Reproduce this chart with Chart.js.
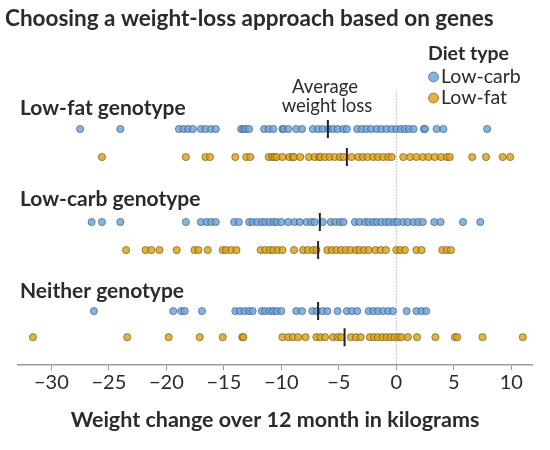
<!DOCTYPE html>
<html lang='en'>
<head>
    <meta charset='UTF-8'>
    <title>Choosing a weight-loss approach based on genes</title>
    <style>
        body {
            margin: 0;
            padding: 0;
            background-color: #fff;
        }
        .chart-box {
            width: 550px;
            height: 450px;
            position: relative;
        }
    </style>
</head>
<body>
    <div class='chart-box'>
        <canvas id='genesChart'></canvas>
    </div>

    <script src='https://cdn.jsdelivr.net/npm/chart.js'></script>
    <script>
        const groups = ['Low-fat genotype', 'Low-carb genotype', 'Neither genotype'];
        const diets = ['Low-carb', 'Low-fat'];
        const xTicks = [-30, -25, -20, -15, -10, -5, 0, 5, 10];

        // weight change (kg) per person
        const lowFatGenoLowCarb = [-27.5, -24.0, -18.9, -18.5, -18.1, -17.7, -17.0, -16.6, -16.1, -15.7, -13.5, -13.3, -13.1, -12.8,
            -11.5, -11.1, -10.7, -9.9, -9.8, -9.4, -8.7, -8.2, -7.25, -6.8, -6.4, -5.9, -5.5, -5.1, -4.6, -4.3, -3.4, -3.0, -2.6,
            -2.2, -1.7, -1.3, -0.85, -0.4, 0.0, 0.4, 0.75, 1.1, 1.5, 2.4, 2.5, 3.5, 4.1, 7.9];
        const lowFatGenoLowFat = [-25.6, -18.3, -16.6, -16.2, -14.0, -13.05, -12.7, -11.1, -10.8, -10.6, -10.4, -9.9, -9.3, -9.0,
            -8.9, -8.35, -7.6, -7.1, -6.7, -6.6, -6.2, -5.8, -5.35, -4.9, -4.6, -3.9, -3.3, -2.9, -2.5, -2.0, -1.6, -1.15, -0.7,
            -0.4, 0.6, 1.2, 1.75, 2.3, 2.8, 3.35, 3.9, 4.4, 4.65, 6.6, 7.8, 9.25, 9.9];
        const lowCarbGenoLowCarb = [-26.5, -25.6, -24.0, -18.3, -17.0, -16.5, -16.1, -15.7, -14.1, -13.7, -12.8, -12.5, -12.1,
            -11.7, -11.4, -11.0, -10.65, -10.4, -10.0, -9.4, -8.85, -8.4, -7.8, -7.4, -7.1, -6.4, -5.7, -5.3, -4.9, -4.6, -3.6,
            -3.2, -2.7, -2.4, -2.0, -1.7, -1.3, -0.9, -0.6, -0.2, 0.1, 0.6, 1.0, 1.5, 1.9, 2.3, 3.3, 3.85, 5.8, 7.3];
        const lowCarbGenoLowFat = [-23.5, -21.8, -21.3, -20.6, -19.1, -17.55, -17.2, -16.4, -15.1, -14.8, -14.35, -13.9, -11.8,
            -11.4, -11.0, -10.7, -10.3, -9.9, -8.9, -8.1, -7.7, -7.25, -6.95, -6.0, -5.6, -5.2, -4.8, -4.4, -4.0, -3.5, -3.2,
            -2.8, -2.4, -1.8, -1.35, -0.9, 0.0, 0.35, 0.75, 1.75, 2.2, 4.0, 4.4, 4.75];
        const neitherGenoLowCarb = [-26.3, -19.4, -18.7, -18.4, -16.9, -14.0, -13.6, -13.2, -12.8, -12.5, -11.7, -11.4, -11.0,
            -10.7, -10.4, -10.0, -8.7, -8.2, -7.3, -6.9, -6.4, -6.0, -5.1, -4.3, -3.85, -3.4, -2.4, -2.0, -1.6, -1.15, -0.7,
            -0.3, 0.9, 1.75, 2.2, 2.6];
        const neitherGenoLowFat = [-31.6, -23.4, -19.8, -17.1, -15.1, -13.4, -13.3, -9.9, -9.4, -9.0, -8.55, -7.9, -6.95, -6.6,
            -6.2, -5.5, -5.1, -4.8, -3.95, -3.5, -3.1, -2.3, -1.95, -1.6, -1.2, -0.85, -0.5, -0.15, 0.2, 0.45, 1.0, 1.8, 3.4,
            5.1, 5.3, 7.5, 11.0];

        // average weight change per genotype (same order as groups)
        const avgLowCarb = [-5.95, -6.65, -6.8];
        const avgLowFat = [-4.3, -6.8, -4.5];

        // layout: row position of each strip on the hidden y scale
        const rowPos = [[0, 1], [3.32, 4.32], [6.5, 7.43]];
        const yMin = -1.57, yMax = 8.43;

        const blueFill = 'rgba(112, 166, 221, 0.85)';
        const goldFill = 'rgba(222, 166, 30, 0.85)';
        const blueEdge = 'rgba(45, 70, 100, 0.7)';
        const goldEdge = 'rgba(90, 65, 15, 0.7)';
        const textColor = '#2b2b2b';

        const strips = [
            [lowFatGenoLowCarb, lowFatGenoLowFat],
            [lowCarbGenoLowCarb, lowCarbGenoLowFat],
            [neitherGenoLowCarb, neitherGenoLowFat]
        ];

        const datasets = [];
        strips.forEach((pair, g) => {
            pair.forEach((vals, d) => {
                datasets.push({
                    label: groups[g] + ' / ' + diets[d],
                    data: vals.map(v => ({ x: v, y: rowPos[g][d] })),
                    backgroundColor: d == 0 ? blueFill : goldFill,
                    borderColor: d == 0 ? blueEdge : goldEdge,
                    borderWidth: 0.8,
                    pointRadius: 3.6,
                    order: 1
                });
            });
        });

        const meanPoints = [];
        groups.forEach((_, g) => {
            meanPoints.push({ x: avgLowCarb[g], y: rowPos[g][0] });
            meanPoints.push({ x: avgLowFat[g], y: rowPos[g][1] });
        });
        datasets.push({
            label: 'Average weight loss',
            data: meanPoints,
            pointStyle: 'line',
            rotation: 90,
            pointRadius: 9,
            borderWidth: 2,
            borderColor: '#222',
            order: 0
        });

        datasets.push({
            type: 'line',
            label: 'zero',
            data: [{ x: 0, y: -1.3 }, { x: 0, y: yMax }],
            borderColor: '#888',
            borderWidth: 1,
            borderDash: [1, 2],
            pointRadius: 0,
            order: 2
        });

        const textLayer = {
            id: 'textLayer',
            afterDraw(chart) {
                const ctx = chart.ctx;
                ctx.save();
                ctx.fillStyle = textColor;
                ctx.textBaseline = 'middle';

                ctx.font = 'bold 22.5px Lato';
                ctx.textAlign = 'left';
                ctx.fillText('Choosing a weight-loss approach based on genes', 5, 19);

                ctx.font = 'bold 21px Lato';
                const labelY = [108, 199, 291];
                groups.forEach((name, g) => ctx.fillText(name, 20, labelY[g]));

                ctx.font = '18.5px Lato';
                ctx.textAlign = 'center';
                ctx.fillText('Average', 325, 87);
                ctx.fillText('weight loss', 327, 106);

                ctx.textAlign = 'left';
                ctx.font = 'bold 19.5px Lato';
                ctx.fillText('Diet type', 428, 54);
                ctx.font = '19.5px Lato';
                const fills = [blueFill, goldFill];
                const edges = [blueEdge, goldEdge];
                diets.forEach((name, d) => {
                    const y = 77 + d * 21;
                    ctx.beginPath();
                    ctx.arc(433.5, y, 5, 0, Math.PI * 2);
                    ctx.fillStyle = fills[d];
                    ctx.fill();
                    ctx.strokeStyle = edges[d];
                    ctx.lineWidth = 0.8;
                    ctx.stroke();
                    ctx.fillStyle = textColor;
                    ctx.fillText(name, 441, y);
                });
                ctx.restore();
            }
        };

        new Chart(document.getElementById('genesChart'), {
            type: 'scatter',
            data: { datasets: datasets },
            options: {
                responsive: true,
                maintainAspectRatio: false,
                animation: false,
                layout: { padding: { top: 85, left: 18, right: 18, bottom: 15 } },
                plugins: {
                    legend: { display: false },
                    tooltip: { enabled: false }
                },
                scales: {
                    x: {
                        type: 'linear',
                        min: -32.9,
                        max: 11.8,
                        afterBuildTicks: scale => {
                            scale.ticks = xTicks.map(v => ({ value: v }));
                        },
                        grid: { drawOnChartArea: false, drawTicks: true, tickLength: 5, color: '#999' },
                        border: { display: true, color: '#999', width: 1.5 },
                        ticks: {
                            color: textColor,
                            padding: 0,
                            font: { family: 'Lato', size: 20 },
                            maxRotation: 0,
                            callback: v => (v < 0 ? '\u2212' + Math.abs(v) : String(v))
                        },
                        title: {
                            display: true,
                            text: 'Weight change over 12 month in kilograms',
                            color: textColor,
                            font: { family: 'Lato', size: 21.5, weight: 'bold' },
                            padding: { top: 13, bottom: 2 }
                        }
                    },
                    y: {
                        type: 'linear',
                        display: false,
                        reverse: true,
                        min: yMin,
                        max: yMax
                    }
                }
            },
            plugins: [textLayer]
        });
    </script>
</body>
</html>
